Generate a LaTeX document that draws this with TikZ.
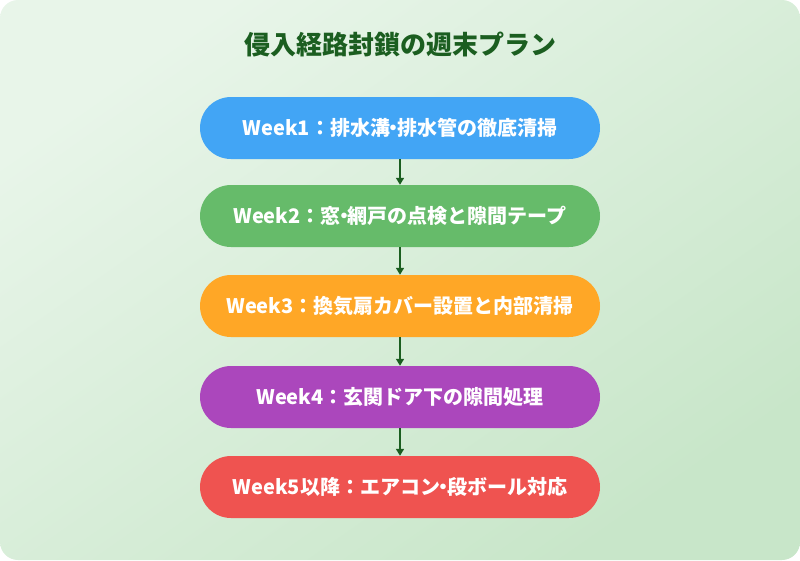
\documentclass[tikz,border=0pt]{standalone}
\usepackage{fontspec}
\setmainfont{Noto Sans CJK JP}
\usetikzlibrary{arrows.meta}
\definecolor{bgA}{HTML}{E8F5E9}
\definecolor{bgB}{HTML}{C8E6C9}
\definecolor{dg}{HTML}{1B5E20}
\definecolor{c1}{HTML}{42A5F5}
\definecolor{c2}{HTML}{66BB6A}
\definecolor{c3}{HTML}{FFA726}
\definecolor{c4}{HTML}{AB47BC}
\definecolor{c5}{HTML}{EF5350}
\newcommand{\ndot}{\kern-0.32em・\kern-0.32em}
\tikzset{
 stepbox/.style={minimum width=400pt,minimum height=62pt,rounded corners=31pt,text=white,font=\fontsize{20pt}{24pt}\selectfont\bfseries,inner sep=0pt},
 conn/.style={-{Triangle[length=7pt,width=8pt]},line width=1.6pt,draw=dg}
}
\begin{document}
\begin{tikzpicture}[x=1pt,y=-1pt]
\useasboundingbox (0,0) rectangle (800,560);
\shade[rounded corners=18pt,top color=bgA,bottom color=bgB,shading angle=35] (0,0) rectangle (800,560);
\node[text=dg,font=\fontsize{26pt}{30pt}\selectfont\bfseries] (t) at (400,45) {侵入経路封鎖の週末プラン};
\node[stepbox,fill=c1] (a) at (400,128) {Week1：排水溝\ndot 排水管の徹底清掃};
\node[stepbox,fill=c2] (b) at (400,216) {Week2：窓\ndot 網戸の点検と隙間テープ};
\node[stepbox,fill=c3] (c) at (400,306) {Week3：換気扇カバー設置と内部清掃};
\node[stepbox,fill=c4] (d) at (400,397) {Week4：玄関ドア下の隙間処理};
\node[stepbox,fill=c5] (e) at (400,487) {Week5以降：エアコン\ndot 段ボール対応};
\draw[conn] (a) -- (b);
\draw[conn] (b) -- (c);
\draw[conn] (c) -- (d);
\draw[conn] (d) -- (e);
\end{tikzpicture}
\end{document}
